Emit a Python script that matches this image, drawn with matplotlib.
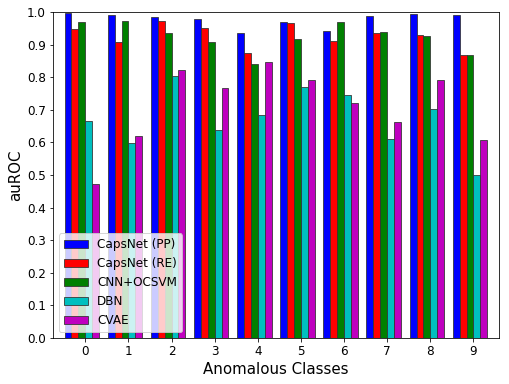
import matplotlib
matplotlib.use("Agg")
import matplotlib.pyplot as plt
import numpy as np

classes = ["0", "1", "2", "3", "4", "5", "6", "7", "8", "9"]
series_names = ["CapsNet (PP)", "CapsNet (RE)", "CNN+OCSVM", "DBN", "CVAE"]
capsnet_pp = [0.997, 0.990, 0.984, 0.978, 0.935, 0.968, 0.941, 0.987, 0.993, 0.990]
capsnet_re = [0.947, 0.907, 0.971, 0.950, 0.874, 0.965, 0.910, 0.935, 0.928, 0.869]
cnn_ocsvm = [0.968, 0.971, 0.935, 0.907, 0.840, 0.916, 0.968, 0.938, 0.925, 0.869]
dbn = [0.665, 0.597, 0.803, 0.637, 0.683, 0.769, 0.744, 0.609, 0.701, 0.499]
cvae = [0.472, 0.619, 0.821, 0.766, 0.846, 0.790, 0.720, 0.662, 0.790, 0.606]
colors = ["b", "r", "g", "c", "m"]

fig = plt.figure(figsize=(509 / 72, 384 / 72), dpi=72)
ax = fig.add_axes([0.104, 0.120, 0.877, 0.849])

ind = np.arange(len(classes))
width = 0.16
for i, (vals, name, c) in enumerate(zip([capsnet_pp, capsnet_re, cnn_ocsvm, dbn, cvae], series_names, colors)):
    ax.bar(ind - 0.4 + i * width, vals, width, color=c, edgecolor="#333333", linewidth=0.8, label=name)

ax.set_xticks(ind)
ax.set_xticklabels(classes, fontsize=12)
ax.set_yticks(np.arange(0, 1.01, 0.1))
ax.set_yticklabels(["%.1f" % v for v in np.arange(0, 1.01, 0.1)], fontsize=12)
ax.set_ylim(0, 1.0)
ax.set_xlim(-0.75, 9.6)
ax.set_xlabel("Anomalous Classes", fontsize=15)
ax.set_ylabel("auROC", fontsize=15)
ax.legend(loc="lower left", fontsize=12)

fig.savefig("out.png", dpi=72)
